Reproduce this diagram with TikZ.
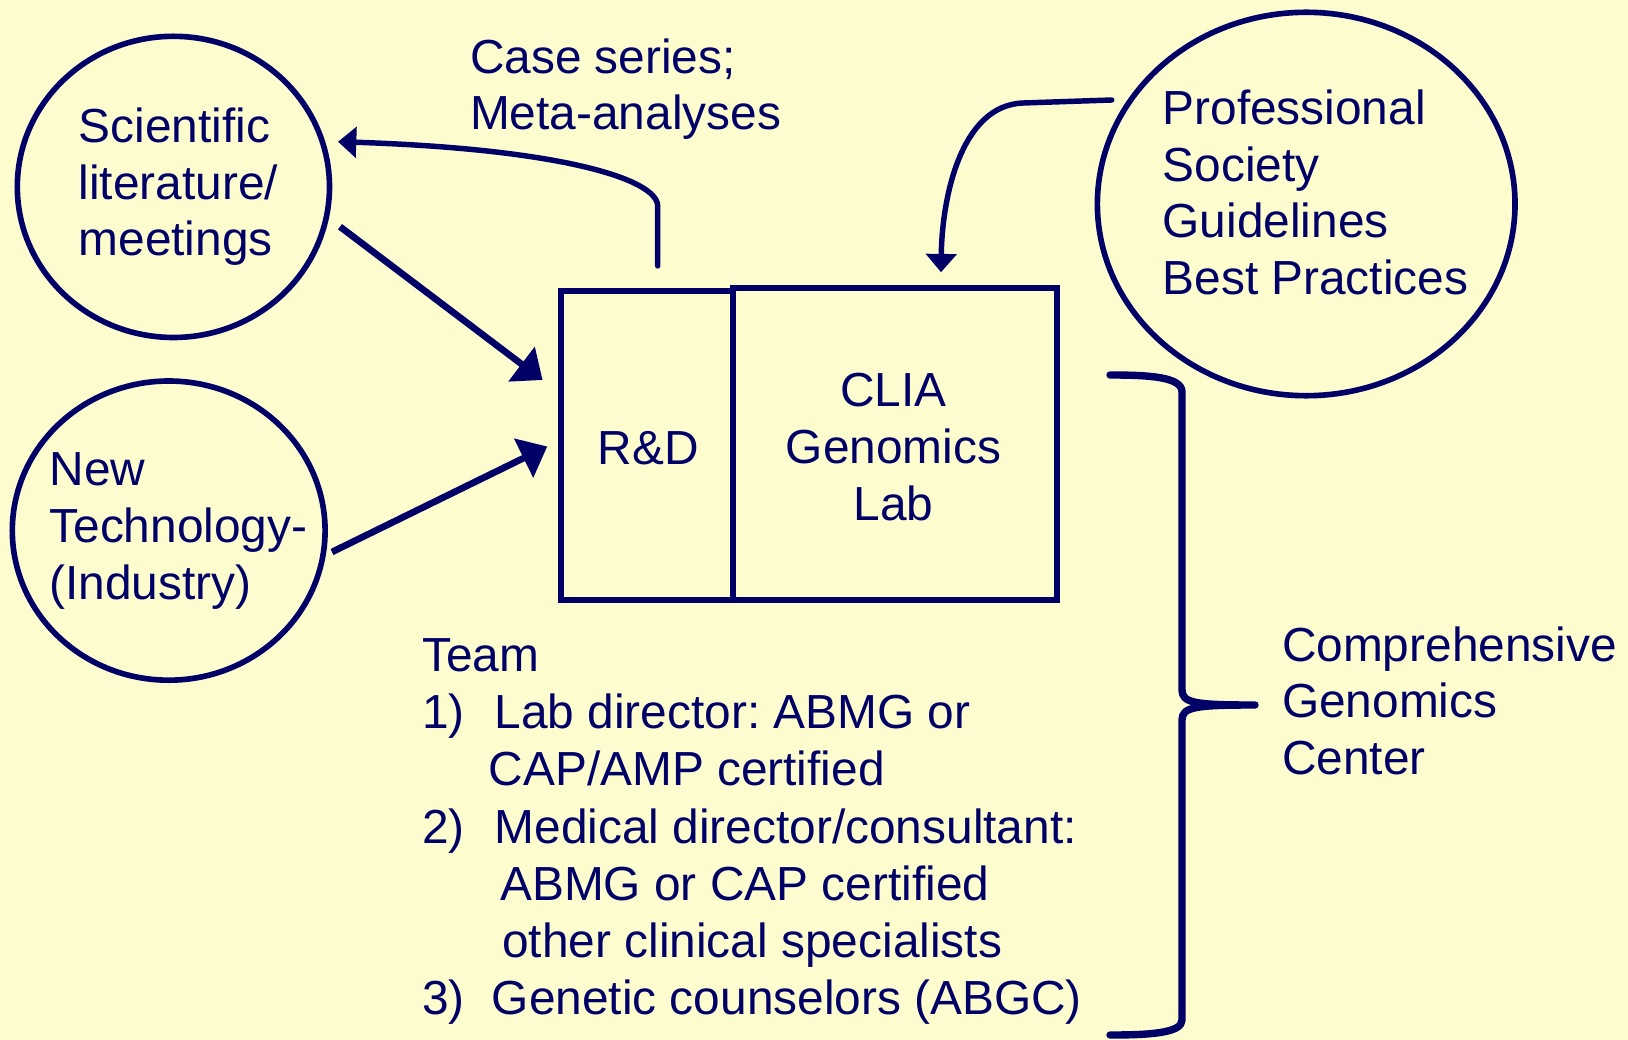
\documentclass[tikz,border=0pt]{standalone}
\usepackage{fontspec}
\setmainfont{Liberation Sans}
\usetikzlibrary{shapes.geometric,arrows.meta,calc}
\definecolor{bgyellow}{HTML}{FCFCCE}
\definecolor{navy}{HTML}{000066}
\tikzset{
  txt/.style={inner sep=0pt, anchor=base west, align=left, text=navy,
    font=\frenchspacing\fontsize{13.6}{16.13}\selectfont},
  ctxt/.style={inner sep=0pt, anchor=base, align=center, text=navy,
    font=\fontsize{13.6}{16.13}\selectfont},
  bubble/.style={ellipse, draw=navy, line width=1.6pt, inner sep=0pt},
  labbox/.style={draw=navy, line width=1.6pt, inner sep=0pt},
  bigarrow/.style={draw=navy, line width=1.9pt, -{Triangle[length=7.5pt,width=12pt]}},
  curvearrow/.style={draw=navy, line width=1.55pt, line cap=round, -{Triangle[length=5.2pt,width=8.6pt]}},
  bracestyle/.style={draw=navy, line width=2.1pt, line cap=round, line join=round},
}
\begin{document}
\begin{tikzpicture}[x=0.01cm, y=-0.01cm]
\fill[bgyellow] (0,0) rectangle (1628,1040);
\useasboundingbox (0,0) rectangle (1628,1040);

% bubbles
\node[bubble, minimum width=3.12cm, minimum height=3.01cm] (c1) at (173.4,186.9) {};
\node[bubble, minimum width=3.126cm, minimum height=2.99cm] (c2) at (168.7,530.6) {};
\node[bubble, minimum width=4.174cm, minimum height=3.832cm] (c3) at (1306.2,204) {};

% bubble texts (anchor = baseline of last line)
\node[txt] (t1) at (77.9,256) {Scientific\\literature/\\meetings};
\node[txt] (t2) at (48.8,599) {New\\Technology-\\(Industry)};
\node[txt] (t3) at (1161.9,294.5) {Professional\\Society\\Guidelines\\Best Practices};

% boxes
\draw[labbox] (560.7,290.7) rectangle (733,600);
\node[inner sep=0pt, minimum width=1.723cm, minimum height=3.093cm] (rd) at (646.85,445.35) {};
\draw[labbox] (733,288.3) rectangle (1057,600);
\node[inner sep=0pt, minimum width=3.24cm, minimum height=3.117cm] (clia) at (895,444.15) {};
\node[ctxt] (rdt) at (648.4,464) {R\&D};
\node[ctxt] (cliat) at (893.5,520) {CLIA\\Genomics\\Lab};

% top label
\node[txt] (cs) at (469.3,129.8) {Case series;\\Meta-analyses};

% team
\node[txt, font=\frenchspacing\fontsize{13.6}{16.25}\selectfont] (team) at (421.5,1014.5) {Team\\
\makebox[20.6pt][l]{1)}Lab director: ABMG or\\
\hspace*{18.9pt}CAP/AMP certified\\
\makebox[20.6pt][l]{2)}Medical director/consultant:\\
\hspace*{22.2pt}ABMG or CAP certified\\
\hspace*{22.8pt}other clinical specialists\\
\makebox[19.8pt][l]{3)}Genetic counselors (ABGC)};

% comprehensive
\node[txt] (cgc) at (1281.3,774.6) {Comprehensive\\Genomics\\Center};

% arrows
\draw[bigarrow] ($(c1.center)+(166.6,39.8)$) -- ($(rd.west)+(-17.4,-65.35)$);
\draw[bigarrow] ($(c2.center)+(163.3,21.4)$) -- ($(rd.west)+(-12.7,1.15)$);
\draw[curvearrow] ($(rd.north)+(10.85,-24)$) -- ($(rd.north)+(10.85,-84)$)
   .. controls ($(rd.north)+(10.15,-111)$) and ($(rd.north)+(-86.85,-141)$) .. ($(c1.center)+(164.6,-45.2)$);
\draw[curvearrow] ($(c3.center)+(-194.5,-104)$) -- ($(c3.center)+(-283,-101)$)
   .. controls ($(c3.center)+(-346,-99)$) and ($(clia.north)+(47,-88.3)$) .. ($(clia.north)+(46,-15.3)$);

% brace
\coordinate (bracetip) at (1255,705);
\draw[bracestyle] (1110,375) .. controls (1150,375) and (1182,377) .. (1182,392)
  -- (1182,690) .. controls (1182,703) and (1195,705) .. (bracetip)
  .. controls (1195,705) and (1182,707) .. (1182,720)
  -- (1182,1020) .. controls (1182,1033) and (1150,1035) .. (1110,1035);
\end{tikzpicture}
\end{document}
